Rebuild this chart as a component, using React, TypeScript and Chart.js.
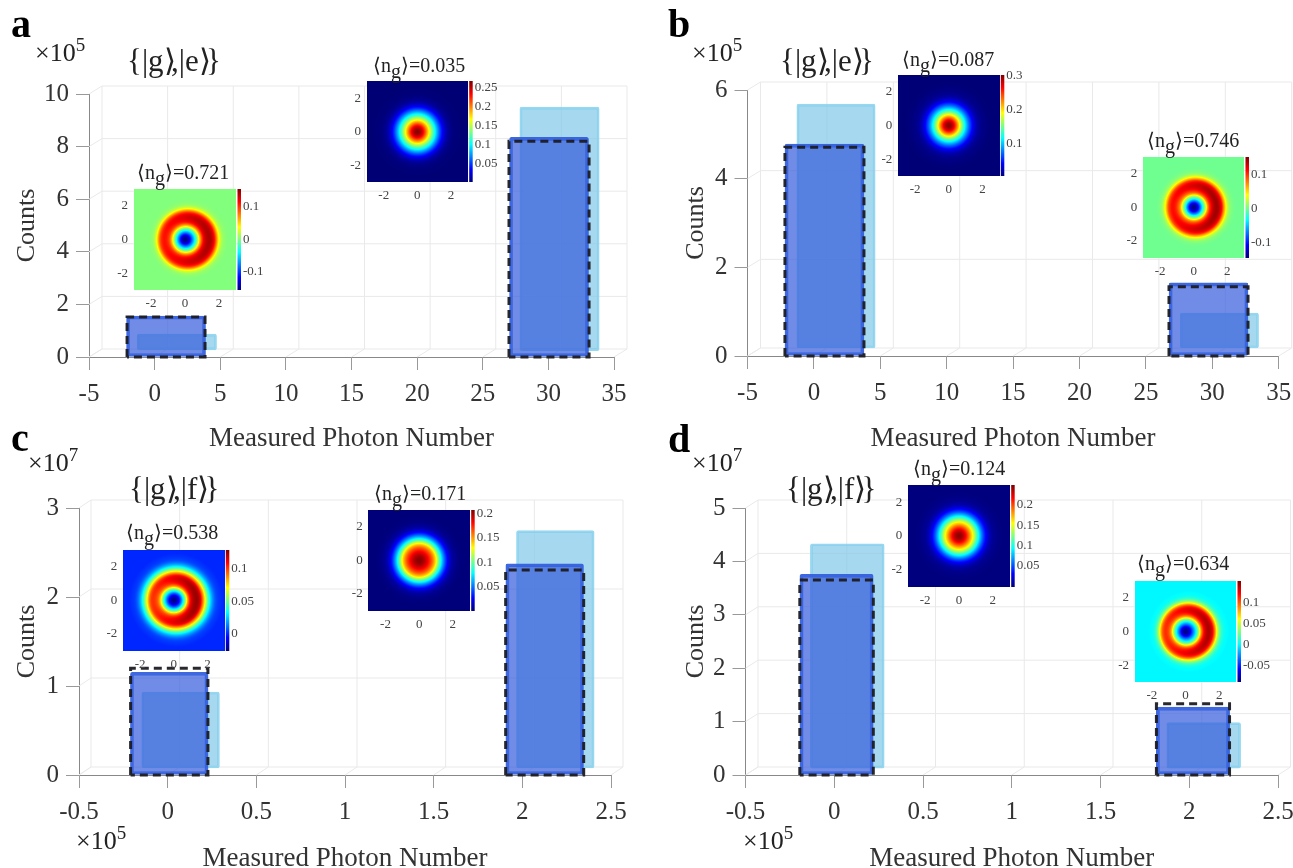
import React, { useEffect, useRef } from "react";
import { Chart, registerables } from "chart.js";

Chart.register(...registerables);

/* ---------- data ---------- */
const xTicksPhoton = [-5, 0, 5, 10, 15, 20, 25, 30, 35];
const xTicksScaled = [-0.5, 0, 0.5, 1, 1.5, 2, 2.5];
const yTicksA = [0, 2, 4, 6, 8, 10];
const yTicksB = [0, 2, 4, 6];
const yTicksC = [0, 1, 2, 3];
const yTicksD = [0, 1, 2, 3, 4, 5];

const aFrontEdges = [[-2.1, 3.84], [27.0, 33.1]];
const aFrontTops = [1.56, 8.35];
const aDashTops = [1.52, 8.2];
const aBackEdges = [[-1.34, 4.73], [27.84, 33.86]];
const aBackTops = [0.87, 9.5];
const aBackBases = [0.27, 0.24];

const bFrontEdges = [[-2.18, 3.77], [26.74, 32.69]];
const bFrontTops = [4.78, 1.65];
const bDashTops = [4.71, 1.56];
const bBackEdges = [[-1.27, 4.6], [27.57, 33.5]];
const bBackTops = [5.68, 0.97];
const bBackBases = [0.18, 0.18];

const cFrontEdges = [[-0.209, 0.227], [1.906, 2.346]];
const cFrontTops = [1.154, 2.374];
const cDashTops = [1.2, 2.303];
const cBackEdges = [[-0.147, 0.293], [1.968, 2.404]];
const cBackTops = [0.933, 2.745];
const cBackBases = [0.079, 0.079];

const dFrontEdges = [[-0.194, 0.22], [1.815, 2.227]];
const dFrontTops = [3.76, 1.27];
const dDashTops = [3.65, 1.335];
const dBackEdges = [[-0.135, 0.282], [1.874, 2.289]];
const dBackTops = [4.33, 0.98];
const dBackBases = [0.13, 0.13];

/* Wigner radial profiles, sampled every 0.1 from r = 0 to r = 3 */
const radii = [0, .1, .2, .3, .4, .5, .6, .7, .8, .9, 1, 1.1, 1.2, 1.3, 1.4, 1.5, 1.6, 1.7, 1.8, 1.9, 2, 2.1, 2.2, 2.3, 2.4, 2.5, 2.6, 2.7, 2.8, 2.9, 3];
const profile035 = [.265, .262, .255, .243, .227, .208, .188, .168, .148, .13, .112, .095, .078, .062, .047, .035, .025, .017, .011, .007, .005, .003, .002, .001, .001, .001, 0, 0, 0, 0, 0];
const profile721 = [-.155, -.15, -.135, -.11, -.08, -.05, -.02, .015, .05, .08, .105, .118, .125, .128, .126, .118, .102, .075, .045, .024, .012, .005, .003, .001, 0, 0, 0, 0, 0, 0, 0];
const profile087 = [.3, .297, .288, .272, .25, .226, .2, .175, .15, .128, .107, .088, .07, .055, .04, .03, .021, .014, .01, .007, .005, .004, .003, .002, .001, .001, 0, 0, 0, 0, 0];
const profile746 = [-.14, -.135, -.12, -.095, -.065, -.03, 0, .03, .065, .09, .105, .118, .125, .128, .125, .115, .1, .07, .045, .025, .012, .006, .003, .001, 0, 0, 0, 0, 0, 0, 0];
const profile538 = [-.024, -.022, -.015, -.005, .008, .025, .04, .06, .08, .095, .105, .11, .113, .114, .112, .105, .09, .075, .06, .046, .033, .023, .015, .009, .005, .003, .002, .001, 0, 0, 0];
const profile171 = [.205, .204, .201, .197, .191, .184, .176, .168, .158, .146, .132, .113, .095, .078, .062, .048, .035, .025, .017, .011, .007, .005, .003, .002, .001, .001, 0, 0, 0, 0, 0];
const profile124 = [.245, .243, .238, .229, .217, .203, .188, .172, .157, .14, .122, .104, .087, .07, .054, .041, .03, .021, .014, .009, .006, .004, .003, .002, .001, .001, 0, 0, 0, 0, 0];
const profile634 = [-.087, -.083, -.072, -.055, -.035, -.015, .005, .028, .058, .085, .105, .117, .123, .125, .12, .108, .085, .058, .035, .02, .01, .005, .002, .001, 0, 0, 0, 0, 0, 0, 0];

const insetAxisTicks = [-2, 0, 2];
const cbar035 = [.05, .1, .15, .2, .25];
const cbar721 = [-.1, 0, .1];
const cbar087 = [.1, .2, .3];
const cbar746 = [-.1, 0, .1];
const cbar538 = [0, .05, .1];
const cbar171 = [.05, .1, .15, .2];
const cbar124 = [.05, .1, .15, .2];
const cbar634 = [-.05, 0, .05, .1];

/* ---------- layout ---------- */
const FONT = '"Liberation Serif", "Times New Roman", serif';
const PANELS = [
  { box: [0, 0, 650, 455], L: 89, R: 614, T: 94, B: 357, titleC: 26, dx: 13, dy: 8, xr: [-5, 35], yr: [0, 10], xt: xTicksPhoton, yt: yTicksA, fe: aFrontEdges, ft: aFrontTops, dt: aDashTops, be: aBackEdges, bt: aBackTops, bb: aBackBases },
  { box: [650, 0, 690, 455], L: 747.5, R: 1278.7, T: 90, B: 356, titleC: 695, dx: 13, dy: 8, xr: [-5, 35], yr: [0, 6], xt: xTicksPhoton, yt: yTicksB, fe: bFrontEdges, ft: bFrontTops, dt: bDashTops, be: bBackEdges, bt: bBackTops, bb: bBackBases },
  { box: [0, 455, 650, 420], L: 79, R: 611, T: 508, B: 775, titleC: 26, dx: 12, dy: 8, xr: [-0.5, 2.5], yr: [0, 3], xt: xTicksScaled, yt: yTicksC, fe: cFrontEdges, ft: cFrontTops, dt: cDashTops, be: cBackEdges, bt: cBackTops, bb: cBackBases },
  { box: [650, 455, 690, 420], L: 745.5, R: 1278, T: 508, B: 775, titleC: 695, dx: 12.5, dy: 8, xr: [-0.5, 2.5], yr: [0, 5], xt: xTicksScaled, yt: yTicksD, fe: dFrontEdges, ft: dFrontTops, dt: dDashTops, be: dBackEdges, bt: dBackTops, bb: dBackBases },
];

const INSETS = [
  { r: [367, 467.7, 81.5, 182], v: [0.0026, 0.267], ticks: cbar035, p: profile035, lean: 0, gain: 0 },
  { r: [134, 236, 189, 290], v: [-0.157, 0.156], ticks: cbar721, p: profile721, lean: 0.08, gain: 0.12 },
  { r: [898.3, 999.3, 75, 176], v: [0.0027, 0.303], ticks: cbar087, p: profile087, lean: 0, gain: 0 },
  { r: [1143.3, 1244, 157.3, 257.3], v: [-0.142, 0.152], ticks: cbar746, p: profile746, lean: 0.05, gain: 0.12 },
  { r: [123.3, 224.3, 550, 650.3], v: [-0.025, 0.129], ticks: cbar538, p: profile538, lean: 0.05, gain: 0.1 },
  { r: [368.7, 469.7, 510, 610.7], v: [0.001, 0.207], ticks: cbar171, p: profile171, lean: 0, gain: 0 },
  { r: [908.3, 1009.7, 485.3, 586.3], v: [0.0002, 0.248], ticks: cbar124, p: profile124, lean: 0, gain: 0 },
  { r: [1135, 1236, 581, 682], v: [-0.088, 0.15], ticks: cbar634, p: profile634, lean: 0.08, gain: 0.12 },
];

const LETTERS: [string, number, number][] = [["a", 11, 38], ["b", 668, 38], ["c", 11, 452], ["d", 668, 453]];
const EXPONENTS: [string, number, number][] = [["5", 35, 62], ["5", 692, 62], ["7", 28, 472], ["7", 692, 472], ["5", 76, 850], ["5", 743, 850]];
const KETS: [string, number, number][] = [["e", 127, 71], ["e", 780, 71], ["f", 129, 499], ["f", 786, 499]];
const MEANS: [string, number, number][] = [["0.035", 373, 72], ["0.721", 137, 179], ["0.087", 902, 66], ["0.746", 1147, 147], ["0.538", 126, 539], ["0.171", 374, 500], ["0.124", 913, 475], ["0.634", 1137, 570]];

/* ---------- helpers ---------- */
function jet(t: number): [number, number, number] {
  const c = (u: number) => Math.max(0, Math.min(1, u));
  return [c(1.5 - Math.abs(4 * t - 3)) * 255, c(1.5 - Math.abs(4 * t - 2)) * 255, c(1.5 - Math.abs(4 * t - 1)) * 255];
}

const wallPlugin = {
  id: "wall",
  beforeDatasetsDraw(chart: any, _a: any, o: any) {
    const { ctx, scales: { x, y } } = chart;
    const { dx, dy } = o;
    const top = y.getPixelForValue(y.max), bot = y.getPixelForValue(y.min);
    const l = x.getPixelForValue(x.min), r = x.getPixelForValue(x.max);
    ctx.save();
    ctx.strokeStyle = "#e9e9e9";
    ctx.lineWidth = 1;
    ctx.beginPath();
    x.ticks.forEach((t: any) => {
      const p = x.getPixelForValue(t.value);
      ctx.moveTo(p + dx, top - dy); ctx.lineTo(p + dx, bot - dy);
      ctx.moveTo(p, bot); ctx.lineTo(p + dx, bot - dy);
    });
    y.ticks.forEach((t: any) => {
      const p = y.getPixelForValue(t.value);
      ctx.moveTo(l + dx, p - dy); ctx.lineTo(r + dx, p - dy);
      ctx.moveTo(l, p); ctx.lineTo(l + dx, p - dy);
    });
    ctx.stroke();
    ctx.restore();
  },
};

const heatPlugin = {
  id: "heat",
  beforeDatasetsDraw(chart: any, _a: any, o: any) {
    const { ctx, chartArea: ca, scales: { x, y, y1 } } = chart;
    const pts = chart.data.datasets[0].data as { x: number; v: number }[];
    const [vMin, vMax] = o.range;
    ctx.save();
    for (let py = Math.floor(ca.top); py < Math.ceil(ca.bottom); py++) {
      for (let px = Math.floor(ca.left); px < Math.ceil(ca.right); px++) {
        const ux = x.getValueForPixel(px + 0.5), uy = y.getValueForPixel(py + 0.5);
        const r = Math.hypot(ux, uy);
        const cos = r > 0 ? ux / r : 0;
        const t = r / (1 + o.lean * cos) / 0.1;
        const i = Math.floor(t);
        let v = i >= pts.length - 1 ? pts[pts.length - 1].v : pts[i].v + (pts[i + 1].v - pts[i].v) * (t - i);
        if (v > 0) v *= 1 + o.gain * cos;
        const [a, b, c] = jet((v - vMin) / (vMax - vMin));
        ctx.fillStyle = `rgb(${a | 0},${b | 0},${c | 0})`;
        ctx.fillRect(px, py, 1, 1);
      }
    }
    for (let py = Math.floor(ca.top); py < Math.ceil(ca.bottom); py++) {
      const [a, b, c] = jet((y1.getValueForPixel(py + 0.5) - vMin) / (vMax - vMin));
      ctx.fillStyle = `rgb(${a | 0},${b | 0},${c | 0})`;
      ctx.fillRect(ca.right + 1.5, py, 3.5, 1);
    }
    ctx.restore();
  },
};

function MainChart({ p }: { p: (typeof PANELS)[number] }) {
  const ref = useRef<HTMLCanvasElement>(null);
  useEffect(() => {
    const [bl, bt, bw, bh] = p.box;
    const pxPerUnit = (p.R - p.L) / (p.xr[1] - p.xr[0]);
    const width = (e: number[][]) => ((e[0][1] - e[0][0] + e[1][1] - e[1][0]) / 2) * pxPerUnit;
    const bars = (edges: number[][], tops: number[], bases: number[]) =>
      edges.map((e, i) => ({ x: (e[0] + e[1]) / 2, y: [bases[i], tops[i]] }));
    const outline = (e: number[], top: number) => [
      { x: e[0], y: 0 }, { x: e[0], y: top }, { x: e[1], y: top }, { x: e[1], y: 0 }, { x: e[0], y: 0 },
    ];
    const dash = (i: number) => ({
      type: "line" as const, data: outline(p.fe[i], p.dt[i]), borderColor: "rgba(28,28,36,0.95)", borderWidth: 3,
      borderDash: [8, 5], pointRadius: 0, fill: false, tension: 0, clip: false as any,
    });
    const chart = new Chart(ref.current!, {
      type: "bar",
      data: {
        datasets: [
          dash(0), dash(1),
          { data: bars(p.fe, p.ft, [0, 0]) as any, stack: "all", barThickness: width(p.fe), backgroundColor: "rgba(57,96,220,0.72)", borderColor: "rgba(52,96,222,0.95)", borderWidth: 3, borderSkipped: false, borderRadius: 2, clip: false as any },
          { data: bars(p.be, p.bt, p.bb) as any, stack: "all", barThickness: width(p.be), backgroundColor: "rgba(128,201,232,0.7)", borderColor: "rgba(140,212,238,0.9)", borderWidth: 2, borderSkipped: false, borderRadius: 2, clip: false as any },
        ] as any,
      },
      options: {
        animation: false, responsive: false,
        layout: { padding: { left: p.titleC - 14 - bl, right: bl + bw - p.R, top: p.T - bt, bottom: 0 } },
        plugins: { legend: { display: false }, tooltip: { enabled: false }, wall: { dx: p.dx, dy: p.dy } } as any,
        scales: {
          x: {
            type: "linear", min: p.xr[0], max: p.xr[1], stacked: true, offset: false,
            afterBuildTicks: (s: any) => { s.ticks = p.xt.map((value) => ({ value })); },
            afterFit: (s: any) => { s.height = bt + bh - p.B; },
            ticks: { autoSkip: false, maxRotation: 0, padding: 9, color: "#333", font: { family: FONT, size: 25 }, callback: (v: any) => String(v) },
            grid: { drawOnChartArea: false, drawTicks: true, tickLength: 13, color: "#999", lineWidth: 1, offset: false },
            border: { color: "#888", width: 1 },
            title: { display: true, text: "Measured Photon Number", color: "#333", font: { family: FONT, size: 27 }, padding: 0 },
          },
          y: {
            type: "linear", min: p.yr[0], max: p.yr[1], stacked: false,
            afterBuildTicks: (s: any) => { s.ticks = p.yt.map((value) => ({ value })); },
            afterFit: (s: any) => { s.width = p.L - p.titleC + 14; },
            ticks: { autoSkip: false, padding: 7, color: "#333", font: { family: FONT, size: 25 }, callback: (v: any) => String(v) },
            grid: { drawOnChartArea: false, drawTicks: true, tickLength: 13, color: "#999", lineWidth: 1 },
            border: { color: "#888", width: 1 },
            title: { display: true, text: "Counts", color: "#333", font: { family: FONT, size: 26 }, padding: 0 },
          },
        },
      },
      plugins: [wallPlugin as any],
    });
    return () => chart.destroy();
  }, [p]);
  const [bl, bt, bw, bh] = p.box;
  return <canvas ref={ref} width={bw} height={bh} style={{ position: "absolute", left: bl, top: bt, width: bw, height: bh, zIndex: 1 }} />;
}

function Inset({ s }: { s: (typeof INSETS)[number] }) {
  const ref = useRef<HTMLCanvasElement>(null);
  const [x0, x1, y0, y1] = s.r;
  const left = Math.floor(x0 - 34), top = Math.floor(y0 - 20);
  const w = Math.ceil(x1 + 52) - left, h = Math.ceil(y1 + 28) - top;
  useEffect(() => {
    const font = { family: FONT, size: 13 };
    const chart = new Chart(ref.current!, {
      type: "scatter",
      data: { datasets: [{ data: radii.map((r, i) => ({ x: r, y: 0, v: s.p[i] })), pointRadius: 0, showLine: false }] as any },
      options: {
        animation: false, responsive: false,
        layout: { padding: { left: 0, right: 0, top: y0 - top, bottom: 0 } },
        plugins: { legend: { display: false }, tooltip: { enabled: false }, heat: { range: s.v, lean: s.lean, gain: s.gain } } as any,
        scales: {
          x: {
            type: "linear", min: -3, max: 3,
            afterBuildTicks: (a: any) => { a.ticks = insetAxisTicks.map((value) => ({ value })); },
            afterFit: (a: any) => { a.height = top + h - y1; },
            ticks: { padding: 6, maxRotation: 0, autoSkip: false, color: "#444", font, callback: (v: any) => String(v) },
            grid: { display: false, drawTicks: false }, border: { display: false },
          },
          y: {
            type: "linear", min: -3, max: 3,
            afterBuildTicks: (a: any) => { a.ticks = insetAxisTicks.map((value) => ({ value })); },
            afterFit: (a: any) => { a.width = x0 - left; },
            ticks: { padding: 6, autoSkip: false, color: "#444", font, callback: (v: any) => String(v) },
            grid: { display: false, drawTicks: false }, border: { display: false },
          },
          y1: {
            type: "linear", position: "right", min: s.v[0], max: s.v[1],
            afterBuildTicks: (a: any) => { a.ticks = s.ticks.map((value) => ({ value })); },
            afterFit: (a: any) => { a.width = left + w - x1; },
            ticks: { padding: 7, autoSkip: false, color: "#444", font, callback: (v: any) => String(v) },
            grid: { display: false, drawTicks: false }, border: { display: false },
          },
        },
      },
      plugins: [heatPlugin as any],
    });
    return () => chart.destroy();
  }, [s]);
  return <canvas ref={ref} width={w} height={h} style={{ position: "absolute", left, top, width: w, height: h, zIndex: 2 }} />;
}

function Txt({ x, base, size, bold, children }: any) {
  return (
    <span style={{ position: "absolute", left: x, top: base - 0.838 * size, fontFamily: FONT, fontSize: size, lineHeight: 1, fontWeight: bold ? 700 : 400, color: bold ? "#000" : "#222", whiteSpace: "nowrap", zIndex: 3 }}>
      {children}
    </span>
  );
}

const Bracket = () => <span style={{ marginRight: "-0.15em" }}>⟩</span>;

export default function App() {
  return (
    <div style={{ position: "absolute", left: 0, top: 0, width: 1293, height: 868, overflow: "hidden", background: "#fff" }}>
      {PANELS.map((p, i) => <MainChart key={i} p={p} />)}
      {INSETS.map((s, i) => <Inset key={i} s={s} />)}
      {LETTERS.map(([t, x, b]) => <Txt key={t} x={x} base={b} size={40} bold>{t}</Txt>)}
      {EXPONENTS.map(([t, x, b], i) => (
        <Txt key={i} x={x} base={b} size={26}>×10<sup style={{ fontSize: 19, verticalAlign: "0.55em", lineHeight: 0 }}>{t}</sup></Txt>
      ))}
      {KETS.map(([t, x, b], i) => <Txt key={i} x={x} base={b} size={31}>{"{|g"}<Bracket />{`,|${t}`}<Bracket />{"}"}</Txt>)}
      {MEANS.map(([t, x, b], i) => (
        <Txt key={i} x={x} base={b} size={20}>⟨n<sub style={{ fontSize: 20, verticalAlign: "-0.3em", lineHeight: 0 }}>g</sub>⟩={t}</Txt>
      ))}
    </div>
  );
}
